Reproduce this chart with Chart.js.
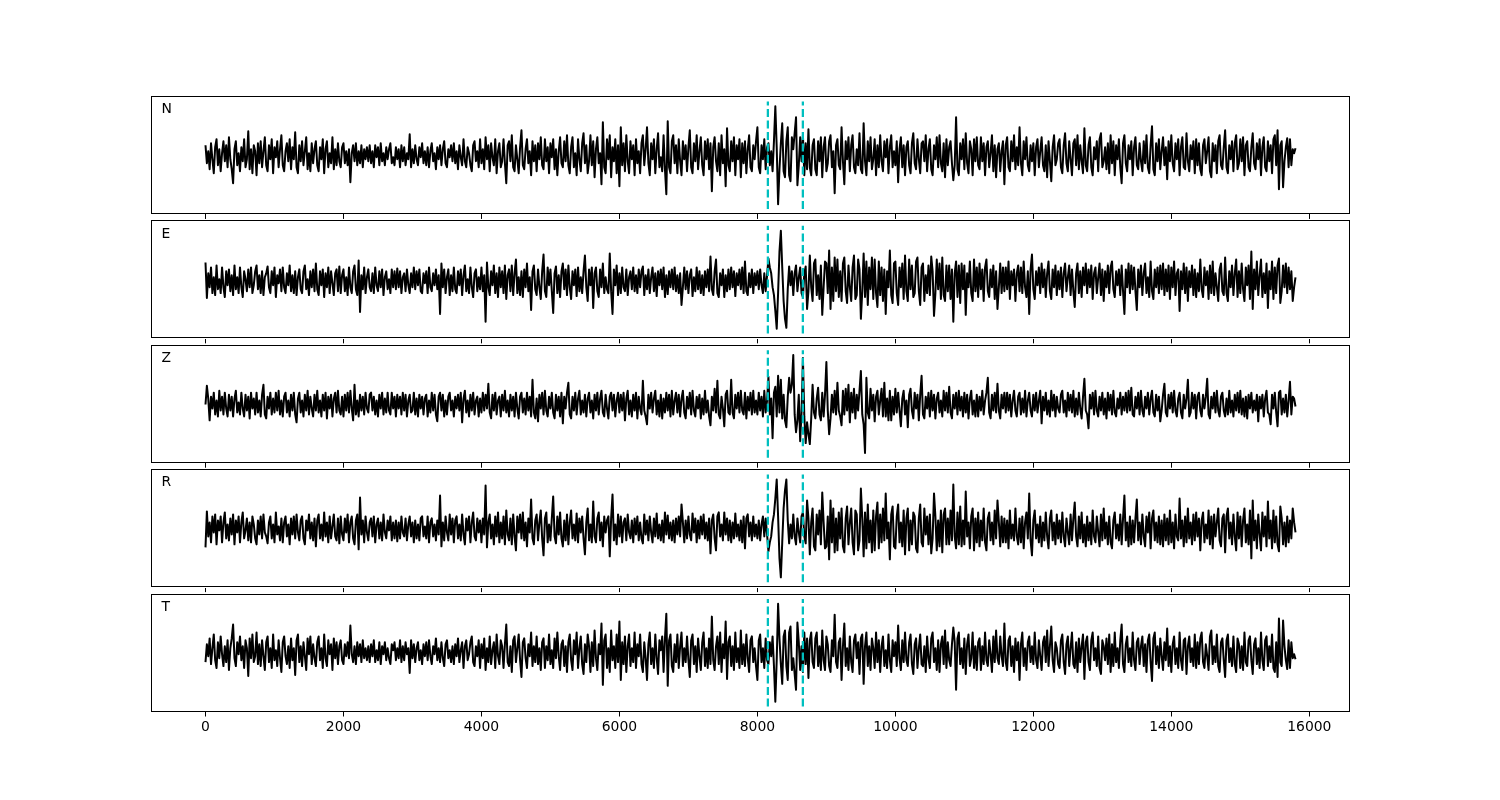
<!DOCTYPE html>
<html><head><meta charset="utf-8">
<script src="https://cdn.jsdelivr.net/npm/chart.js@4.4.1/dist/chart.umd.min.js"></script>
<style>
html,body{margin:0;padding:0;background:#fff;}
#wrap{position:relative;width:1500px;height:800px;background:#fff;}
#wrap canvas{position:absolute;left:0;top:0;}
</style></head><body><div id="wrap"></div>
<script>
// sample spacing (x units per sample)
const sampleStep = 20;
const channels = ['N','E','Z','R','T'];
const traceN = [
10,-8,4,-14,12,-4,-18,8,16,-10,6,-16,2,14,-6,10,-12,18,-4,-14,
-28,6,14,-10,2,-16,8,-6,16,-12,-4,24,-14,6,-18,10,4,-20,12,-8,
14,-12,4,18,-10,-16,10,-4,16,-18,8,-2,14,-12,6,20,-10,-16,4,12,
-6,16,-14,8,-4,23,-12,-18,10,-6,14,-10,4,18,-14,2,-16,12,-8,6,
14,-10,-16,8,-4,16,-18,6,14,-12,2,-8,18,-14,6,-10,12,-6,-12,8,
12,-8,4,-10,6,-27,2,10,-6,12,-10,4,-8,10,-12,6,-4,8,-6,10,
-8,4,-12,10,-2,8,-10,12,-6,2,-10,8,-4,6,12,-8,-2,-10,8,-4,
6,-12,10,-6,8,-10,2,-4,21,-12,6,-8,10,-4,-10,8,-2,12,-8,4,
-10,8,-12,4,12,-6,2,-14,8,-4,10,-10,6,14,-8,-12,6,-2,10,-6,
12,-8,4,-14,10,-2,-10,16,-6,-12,8,2,-10,-16,10,14,-6,4,-12,16,
-8,6,-14,18,-4,10,-16,12,-2,-10,16,-18,4,12,-12,-6,16,-8,-28,10,
14,-6,20,-12,-16,10,-4,-18,8,25,-10,-14,6,16,-8,4,-20,14,-6,10,
-16,12,-4,18,-10,-14,16,-6,8,-18,12,-2,16,-14,6,-20,4,18,-8,-12,
14,-6,20,-10,-18,8,18,-12,2,-20,16,-4,-16,12,22,-8,10,-18,-6,20,
-10,14,-22,6,18,-8,2,-29,33,-12,-18,16,-4,20,-22,8,-6,16,-18,10,
-31,28,-10,12,-16,20,-6,-18,14,-4,10,-20,16,-8,4,-18,12,20,-10,6,
28,-8,-20,12,-4,16,-18,6,22,-12,-2,-16,20,-14,-39,34,-12,-18,14,20,
-8,10,-18,16,-6,-20,14,-4,10,-16,8,25,-12,-18,12,-6,20,-14,4,18,
-10,-20,14,-4,16,-14,12,-36,8,18,-6,-16,12,-20,20,-8,6,-31,27,-10,
-16,14,-6,18,-20,10,-4,16,-22,12,-8,14,-18,6,20,-12,-16,10,-4,14,
28,-12,-18,10,-4,16,-14,8,12,-10,4,-16,14,49,8,-49,-14,12,32,-16,
-22,14,28,-20,-26,18,6,22,38,-30,-10,18,-6,20,-20,12,-14,26,-12,-20,
10,16,-14,-20,14,-6,18,-22,8,18,-16,-8,14,20,-12,4,-38,10,16,-10,
-14,28,-6,-29,14,-4,18,-16,10,20,-12,-18,6,-10,22,-14,-18,32,-6,-20,
14,-6,18,-14,-4,16,-20,10,-12,20,-6,-16,14,-2,16,-18,8,20,-12,4,
-10,14,-27,6,18,-12,10,-20,8,14,-10,-18,12,22,-8,-14,16,-4,-18,12,
14,-6,20,-16,6,16,-14,-20,10,-4,18,-12,20,-8,-16,12,-22,16,-10,8,
14,-8,-25,-10,38,-14,-20,12,-4,16,-14,22,-8,-18,14,6,-20,16,-6,18,
-10,-14,18,-6,12,-20,8,14,-12,2,20,-16,10,-22,6,12,-16,4,14,-29,
10,18,-12,-16,14,-6,20,-14,8,-10,28,-8,-20,14,-4,18,-10,-16,10,-6,
12,-20,8,16,-12,4,18,-10,-16,10,-22,14,-6,-26,8,20,-10,-4,12,16,
-12,-18,10,22,-8,-16,14,-4,-20,12,16,-10,20,-14,10,-6,-18,27,-10,-16,
10,18,-12,-20,8,-4,14,-16,16,22,-12,-6,8,-14,12,-18,20,-8,14,-20,
10,-4,16,-12,-28,12,20,-8,-16,10,-4,14,-20,8,18,-10,-14,12,-6,-16,
14,-8,20,-12,-18,10,29,-14,-20,12,-6,16,-14,4,18,-10,8,-24,14,-6,
20,-8,-16,12,-4,16,-20,8,18,-12,-14,22,-6,-16,10,-4,14,-18,16,-10,
12,-14,-20,10,16,-8,4,18,-16,-22,12,-6,10,-18,14,20,-10,-14,8,25,
-12,-18,10,-4,14,-16,12,20,-14,-8,16,-6,18,-20,10,14,-12,-16,8,22,
-8,-14,12,-4,16,-20,8,18,-12,-16,14,-6,10,-18,16,20,-10,25,-34,10,
14,-32,-6,8,17,-12,16,-10,6,2,7];
const traceE = [
19,-17,8,-6,14,-12,4,-14,16,-8,2,-12,14,-6,-16,10,-4,12,-10,6,
-14,16,-8,4,-12,14,-6,-16,10,2,-10,12,-6,14,-12,-4,10,16,-8,6,
-12,10,-14,4,8,15,-6,-12,10,-4,14,-16,6,-2,12,-10,14,-6,-12,8,
-4,16,-10,6,-12,10,-14,4,12,-8,-12,10,16,-8,2,-14,10,-6,12,-10,
18,-8,-14,10,-4,12,-16,8,-6,14,-12,10,-2,-14,8,12,-10,15,-12,6,
12,-10,4,-14,14,-6,-12,10,16,-8,-14,21,-31,6,-8,14,-12,4,12,-6,
-10,8,-12,14,-4,-10,10,-6,12,-14,4,10,-8,2,-12,12,-6,10,-8,13,
-6,10,-12,4,8,-10,12,-4,-12,8,-6,14,-8,10,-4,12,-10,-12,8,-2,
10,-12,14,-6,-10,8,-4,12,-8,6,-33,18,-6,12,-12,4,12,-14,6,-10,
14,-8,-12,10,-4,12,-14,6,16,-10,2,-12,14,-6,-16,8,12,-10,4,-8,
14,-10,6,-41,19,-6,-14,10,-4,16,-12,8,-16,14,-6,10,-12,16,-18,6,
12,-10,16,-14,8,22,-12,4,-14,10,-16,12,-6,18,-10,4,-29,10,16,-8,
-14,12,-6,-18,10,27,-10,-16,14,-4,12,-10,-32,8,15,-12,6,-16,10,18,
-8,12,-14,16,-6,-18,10,-4,12,-15,14,-10,4,-12,10,26,-6,-20,12,-4,
14,-27,8,14,-10,-16,12,-6,18,-12,4,-8,-12,28,-10,-33,12,-4,16,-14,
8,-12,14,-6,-10,12,-14,4,10,-8,14,-10,6,-12,12,-6,10,15,-14,6,
-8,12,-12,4,14,-10,8,-15,10,-4,12,-8,14,-16,6,-13,10,-6,12,-8,
14,-10,6,-12,8,-24,-6,14,-8,10,-12,6,12,-15,4,-10,14,-8,10,-12,
6,-14,10,-6,12,-10,25,-8,-14,10,22,-12,-16,8,-4,12,-16,6,-10,12,
-8,14,-6,10,-15,8,-4,12,-8,14,-12,20,-10,-14,8,-6,12,-12,8,-4,
10,-8,12,-4,-12,8,-10,6,23,14,8,-6,-14,-30,-48,-12,30,51,14,-20,
-38,-47,-8,15,-4,10,-14,8,16,-10,4,14,-12,-16,8,15,-28,-10,26,-6,
-20,18,22,-14,6,-18,16,-34,-6,20,18,-12,31,-28,14,-20,24,-10,22,-16,
10,-20,18,24,-10,-22,16,-6,-20,14,26,-18,-14,22,12,-38,-10,28,-16,20,
-24,14,-8,24,-18,22,-12,-26,20,-14,14,-20,12,-33,10,-6,31,-14,-22,18,
20,-12,-24,14,-6,18,-18,26,-10,-20,22,-8,16,-16,-12,20,24,-10,-24,14,
18,-20,6,-12,16,-14,25,10,-35,-12,22,-8,18,-18,24,-14,-20,16,-10,16,
-18,12,-41,8,20,-16,16,-22,18,-8,16,-34,8,-6,20,-12,-20,22,-10,14,
-16,18,-8,12,-20,14,22,-10,-16,12,-6,16,-18,10,-28,-6,18,-12,14,-10,
14,-8,20,-18,10,-4,12,-20,8,16,-10,14,-12,20,-6,-16,10,-33,12,27,
-8,-18,10,-4,14,-12,18,-6,12,-16,8,20,-10,-18,12,-6,16,-14,10,-8,
14,-16,8,18,-10,4,16,-14,12,-10,-26,8,18,-12,10,-16,14,-4,18,-12,
12,-6,16,-18,8,14,-12,4,18,-14,12,-20,10,-6,16,-12,14,20,-8,-16,
10,-4,12,-14,16,-10,-33,12,-6,18,-12,16,-8,14,-10,-29,12,-6,16,-14,
8,18,-12,4,-16,20,-10,-18,12,-6,14,-12,16,-8,18,-14,12,-10,16,-18,
14,-6,20,-14,8,12,-30,10,-8,18,-12,14,-20,10,-6,16,-14,12,-16,8,
-10,22,-8,-16,14,-4,10,-18,16,-12,20,-14,8,-6,-20,12,18,-10,-14,24,
-12,-20,10,-6,16,-14,8,22,-16,10,-12,18,-8,-20,14,-4,16,-18,30,-28,
12,-8,20,-14,6,22,-16,8,-12,18,-27,10,-8,20,-18,14,-12,16,23,-22,
-10,16,-6,18,-12,14,-8,10,-20,-6,4];
const traceZ = [
0,19,6,-16,8,-4,12,-10,4,-12,14,-6,8,-10,12,-4,-12,10,-6,8,
-12,6,14,-8,2,-10,12,-4,-12,10,-6,8,-14,12,-4,6,-10,12,-8,4,
-12,10,20,-10,-14,8,-4,12,-10,6,-8,12,-6,14,-10,4,-12,8,12,-8,
4,-12,10,-6,12,-10,-18,6,12,-8,4,-12,10,-6,14,-10,8,-4,-12,10,
-6,14,-8,4,-12,10,-6,12,-14,8,-4,10,-12,6,12,-8,14,-6,-10,8,
-12,10,-6,12,-8,14,-4,-16,20,-10,4,-12,10,-6,8,-10,12,-4,-8,10,
12,-6,8,-10,4,-12,10,-4,12,-10,6,-8,12,-6,-10,12,-4,8,-12,10,
-4,8,-10,12,-6,10,-12,4,10,-8,-6,12,-10,6,-12,10,-4,8,-10,6,
10,-12,4,-8,12,-6,10,-10,-17,8,12,-6,10,-12,4,-10,8,12,-6,4,
-12,8,-4,10,-6,12,-18,6,14,-8,4,-12,10,-6,12,-10,4,8,-12,6,
-8,12,-6,10,-4,21,-8,-14,10,-6,12,-10,4,8,-12,10,-6,14,-8,4,
-12,10,-6,8,-12,12,-4,-14,8,12,-8,6,-10,12,-6,8,-12,25,-8,-14,
6,-17,10,-4,12,-10,14,-6,-12,8,-4,12,-8,-14,10,-6,8,-12,12,-19,
8,-4,12,22,-10,-14,8,-6,12,-10,6,14,-10,4,-8,10,-12,6,12,-8,
4,-14,10,-6,12,-10,6,14,-8,-12,10,-4,-14,8,12,-6,10,-12,4,12,
-8,10,-6,12,-16,6,14,-10,4,-12,10,-6,12,-14,8,-4,-10,24,-6,-12,
-20,10,-4,12,-8,6,14,-10,4,-12,10,-14,6,-8,12,-6,10,-12,14,-10,
4,12,-8,10,-12,6,14,-8,-14,8,-4,12,-10,14,-6,-12,8,-4,10,-14,
6,-10,14,-8,4,-12,-21,8,-6,16,-8,24,-10,-14,8,-4,-22,10,14,-8,
-10,25,-8,-14,10,-4,12,-8,14,-6,-10,12,-14,8,-6,12,-10,14,-8,4,
-10,12,-6,8,-12,14,-8,4,28,-10,6,-34,12,18,-12,29,-8,25,-14,10,
-16,-23,8,27,12,20,50,-10,-28,-16,10,-37,-8,47,-12,-39,-18,-30,-40,-14,
20,-8,-14,6,17,-10,-16,12,-12,10,43,-6,-30,-14,10,-8,14,-10,22,-6,
-12,-21,14,-10,16,-6,20,-18,12,-8,16,-14,10,-6,14,34,-10,-20,-49,27,
-8,-14,16,-6,10,-17,8,14,-10,4,16,-12,22,-12,6,-16,14,-16,8,-10,
16,-8,12,-6,-22,6,14,-10,4,-23,10,16,-6,-14,12,-4,10,-16,10,29,
-10,-14,8,-4,12,-12,14,-6,10,-14,6,12,-8,4,-12,14,-6,12,-8,18,
-8,-14,10,-4,12,-10,14,-6,8,-12,12,-8,10,-14,6,14,-10,4,-12,10,
-12,8,-6,14,-10,4,12,27,-8,-14,10,-6,12,-8,21,-6,-14,10,-4,12,
-8,12,-6,10,-12,4,14,-6,-12,8,12,-10,6,-8,14,-12,4,12,-6,-12,
10,-6,12,-8,4,14,-19,8,-6,12,-10,4,-12,14,-6,10,-12,8,-4,-8,
10,14,-8,4,-12,12,-6,10,-8,14,-12,6,-10,12,-4,-14,8,26,-6,-10,
-24,10,-4,12,-10,14,-6,-12,8,-6,12,-10,6,-14,12,-6,10,-10,14,-8,
-12,6,-4,12,-10,8,-6,12,-8,14,-6,17,-10,-12,8,-4,12,-10,14,-6,
-12,8,-4,12,-10,6,14,-8,-12,10,-6,8,-17,-6,10,21,-8,-12,10,-4,
12,-8,14,-6,-12,6,12,-8,-14,10,-4,6,25,-12,-8,12,-4,10,-14,8,
12,-6,-12,10,-4,8,26,-10,-14,8,-4,12,-8,14,-6,-12,8,12,-6,-12,
6,-10,14,-8,4,-12,10,-6,12,-8,14,-10,6,-12,8,-14,10,-4,12,-8,
4,-6,10,-17,8,-4,10,-12,6,14,-8,-10,-20,10,-4,12,-8,-22,12,14,
-10,6,-8,10,-12,4,23,-10,8,6,-2];
const traceR = [
-19,17,-8,6,-14,12,-4,14,-16,8,-2,12,-14,6,16,-10,4,-12,10,-6,
14,-16,8,-4,12,-14,6,16,-10,-2,10,-12,6,-14,12,4,-10,-16,8,-6,
12,-10,14,-4,-8,-15,6,12,-10,4,-14,16,-6,2,-12,10,-14,6,12,-8,
4,-16,10,-6,12,-10,14,-4,-12,8,12,-10,-16,8,-2,14,-10,6,-12,10,
-18,8,14,-10,4,-12,16,-8,6,-14,12,-10,2,14,-8,-12,10,-15,12,-6,
-12,10,-4,14,-14,6,12,-10,-16,8,14,-21,31,-6,8,-14,12,-4,-12,6,
10,-8,12,-14,4,10,-10,6,-12,14,-4,-10,8,-2,12,-12,6,-10,8,-13,
6,-10,12,-4,-8,10,-12,4,12,-8,6,-14,8,-10,4,-12,10,12,-8,2,
-10,12,-14,6,10,-8,4,-12,8,-6,33,-18,6,-12,12,-4,-12,14,-6,10,
-14,8,12,-10,4,-12,14,-6,-16,10,-2,12,-14,6,16,-8,-12,10,-4,8,
-14,10,-6,43,-19,6,14,-10,4,-16,12,-8,16,-14,6,-10,12,-16,18,-6,
-12,10,-16,14,-8,-22,12,-4,14,-10,16,-12,6,-18,10,-4,29,-10,-16,8,
14,-12,6,18,-10,-27,10,16,-14,4,-12,10,32,-8,-15,12,-6,16,-10,-18,
8,-12,14,-16,6,18,-10,4,-12,15,-14,10,-4,12,-10,-26,6,20,-12,4,
-14,27,-8,-14,10,16,-12,6,-18,12,-4,8,12,-28,10,34,-12,4,-16,14,
-8,12,-14,6,10,-12,14,-4,-10,8,-14,10,-6,12,-12,6,-10,-15,14,-6,
8,-12,12,-4,-14,10,-8,15,-10,4,-12,8,-14,16,-6,13,-10,6,-12,8,
-14,10,-6,12,-8,24,6,-14,8,-10,12,-6,-12,15,-4,10,-14,8,-10,12,
-6,14,-10,6,-12,10,-25,8,14,-10,-22,12,16,-8,4,-12,16,-6,10,-12,
8,-14,6,-10,15,-8,4,-12,8,-14,12,-20,10,14,-8,6,-12,12,-8,4,
-10,8,-12,4,12,-8,10,-6,-23,-14,-8,6,14,30,49,12,-30,-49,-14,20,
38,49,8,-15,4,-10,14,-8,-16,10,-4,-14,12,16,-8,-15,28,10,-26,6,
20,-18,-22,14,-6,18,-16,36,6,-20,-18,12,-31,28,-14,20,-24,10,-22,16,
-10,20,-18,-24,10,22,-16,6,20,-14,-26,18,14,-22,-12,40,10,-28,16,-20,
24,-14,8,-24,18,-22,12,26,-20,14,-14,20,-12,35,-10,6,-31,14,22,-18,
-20,12,24,-14,6,-18,18,-26,10,20,-22,8,-16,16,12,-20,-24,10,24,-14,
-18,20,-6,12,-16,14,-25,-10,35,12,-22,8,-18,18,-24,14,20,-16,10,-16,
18,-12,44,-8,-20,16,-16,22,-18,8,-16,37,-8,6,-20,12,20,-22,10,-14,
16,-18,8,-12,20,-14,-22,10,16,-12,6,-16,18,-10,28,6,-18,12,-14,10,
-14,8,-20,18,-10,4,-12,20,-8,-16,10,-14,12,-20,6,16,-10,35,-12,-27,
8,18,-10,4,-14,12,-18,6,-12,16,-8,-20,10,18,-12,6,-16,14,-10,8,
-14,16,-8,-18,10,-4,-16,14,-12,10,26,-8,-18,12,-10,16,-14,4,-18,12,
-12,6,-16,18,-8,-14,12,-4,-18,14,-12,20,-10,6,-16,12,-14,-20,8,16,
-10,4,-12,14,-16,10,33,-12,6,-18,12,-16,8,-14,10,29,-12,6,-16,14,
-8,-18,12,-4,16,-20,10,18,-12,6,-14,12,-16,8,-18,14,-12,10,-16,18,
-14,6,-20,14,-8,-12,30,-10,8,-18,12,-14,20,-10,6,-16,14,-12,16,-8,
10,-22,8,16,-14,4,-10,18,-16,12,-20,14,-8,6,20,-12,-18,10,14,-24,
12,20,-10,6,-16,14,-8,-22,16,-10,12,-18,8,20,-14,4,-16,18,-30,28,
-12,8,-20,14,-6,-22,16,-8,12,-18,27,-10,8,-20,18,-14,12,-16,-23,22,
10,-16,6,-18,12,-14,8,-10,20,6,-4];
const traceT = [
-10,8,-4,14,-12,4,18,-8,-16,10,-6,16,-2,-14,6,-10,12,-18,4,14,
28,-6,-14,10,-2,16,-8,6,-16,12,4,-24,14,-6,18,-10,-4,20,-12,8,
-14,12,-4,-18,10,16,-10,4,-16,18,-8,2,-14,12,-6,-20,10,16,-4,-12,
6,-16,14,-8,4,-23,12,18,-10,6,-14,10,-4,-18,14,-2,16,-12,8,-6,
-14,10,16,-8,4,-16,18,-6,-14,12,-2,8,-18,14,-6,10,-12,6,12,-8,
-12,8,-4,10,-6,27,-2,-10,6,-12,10,-4,8,-10,12,-6,4,-8,6,-10,
8,-4,12,-10,2,-8,10,-12,6,-2,10,-8,4,-6,-12,8,2,10,-8,4,
-6,12,-10,6,-8,10,-2,4,-21,12,-6,8,-10,4,10,-8,2,-12,8,-4,
10,-8,12,-4,-12,6,-2,14,-8,4,-10,10,-6,-14,8,12,-6,2,-10,6,
-12,8,-4,14,-10,2,10,-16,6,12,-8,-2,10,16,-10,-14,6,-4,12,-16,
8,-6,14,-18,4,-10,16,-12,2,10,-16,18,-4,-12,12,6,-16,8,28,-10,
-14,6,-20,12,16,-10,4,18,-8,-25,10,14,-6,-16,8,-4,20,-14,6,-10,
16,-12,4,-18,10,14,-16,6,-8,18,-12,2,-16,14,-6,20,-4,-18,8,12,
-14,6,-20,10,18,-8,-18,12,-2,20,-16,4,16,-12,-22,8,-10,18,6,-20,
10,-14,22,-6,-18,8,-2,29,-33,12,18,-16,4,-20,22,-8,6,-16,18,-10,
31,-28,10,-12,16,-20,6,18,-14,4,-10,20,-16,8,-4,18,-12,-20,10,-6,
-28,8,20,-12,4,-16,18,-6,-22,12,2,16,-20,14,39,-34,12,18,-14,-20,
8,-10,18,-16,6,20,-14,4,-10,16,-8,-25,12,18,-12,6,-20,14,-4,-18,
10,20,-14,4,-16,14,-12,36,-8,-18,6,16,-12,20,-20,8,-6,31,-27,10,
16,-14,6,-18,20,-10,4,-16,22,-12,8,-14,18,-6,-20,12,16,-10,4,-14,
-28,12,18,-10,4,-16,14,-8,-12,10,-4,16,-14,-50,-8,49,14,-12,-32,16,
22,-14,-28,20,26,-18,-6,-22,-38,30,10,-18,6,-20,20,-12,14,-26,12,20,
-10,-16,14,20,-14,6,-18,22,-8,-18,16,8,-14,-20,12,-4,38,-10,-16,10,
14,-28,6,29,-14,4,-18,16,-10,-20,12,18,-6,10,-22,14,18,-32,6,20,
-14,6,-18,14,4,-16,20,-10,12,-20,6,16,-14,2,-16,18,-8,-20,12,-4,
10,-14,27,-6,-18,12,-10,20,-8,-14,10,18,-12,-22,8,14,-16,4,18,-12,
-14,6,-20,16,-6,-16,14,20,-10,4,-18,12,-20,8,16,-12,22,-16,10,-8,
-14,8,25,10,-38,14,20,-12,4,-16,14,-22,8,18,-14,-6,20,-16,6,-18,
10,14,-18,6,-12,20,-8,-14,12,-2,-20,16,-10,22,-6,-12,16,-4,-14,29,
-10,-18,12,16,-14,6,-20,14,-8,10,-28,8,20,-14,4,-18,10,16,-10,6,
-12,20,-8,-16,12,-4,-18,10,16,-10,22,-14,6,26,-8,-20,10,4,-12,-16,
12,18,-10,-22,8,16,-14,4,20,-12,-16,10,-20,14,-10,6,18,-27,10,16,
-10,-18,12,20,-8,4,-14,16,-16,-22,12,6,-8,14,-12,18,-20,8,-14,20,
-10,4,-16,12,28,-12,-20,8,16,-10,4,-14,20,-8,-18,10,14,-12,6,16,
-14,8,-20,12,18,-10,-29,14,20,-12,6,-16,14,-4,-18,10,-8,24,-14,6,
-20,8,16,-12,4,-16,20,-8,-18,12,14,-22,6,16,-10,4,-14,18,-16,10,
-12,14,20,-10,-16,8,-4,-18,16,22,-12,6,-10,18,-14,-20,10,14,-8,-25,
12,18,-10,4,-14,16,-12,-20,14,8,-16,6,-18,20,-10,-14,12,16,-8,-22,
8,14,-12,4,-16,20,-8,-18,12,16,-14,6,-10,18,-16,-20,10,-25,34,-10,
-14,32,6,-8,-17,12,-16,10,-6,-2,-7];
// arrival picks (x units)
const pickTimes = [8152, 8659];
// x axis ticks
const xTickValues = [0,2000,4000,6000,8000,10000,12000,14000,16000];
const xMin = -790, xMax = 16590;

const traces = [traceN, traceE, traceZ, traceR, traceT];
const wrap = document.getElementById('wrap');
const figTop = 96, figBottom = 712, hspace = 0.05;
const H = (figBottom - figTop) / (5 + 4 * hspace), G = H * hspace;

function framePlugin(label){
  return {
    id:'frame'+label,
    afterDraw(chart){
      const a = chart.chartArea, ctx = chart.ctx;
      ctx.save();
      ctx.strokeStyle = '#000'; ctx.lineWidth = 1;
      ctx.strokeRect(Math.round(a.left)+0.5, Math.round(a.top)+0.5, Math.round(a.right-a.left)-1, Math.round(a.bottom-a.top)-1);
      ctx.fillStyle = '#000';
      ctx.font = '13.9px "DejaVu Sans"';
      ctx.textBaseline = 'alphabetic';
      ctx.fillText(label, a.left + 10.5, a.top + 17.3);
      ctx.restore();
    }
  };
}

traces.forEach((vals, k) => {
  const top = figTop + k * (H + G), bottom = top + H;
  const last = k === 4;
  const axisH = last ? 40 : 8;
  const cv = document.createElement('canvas');
  cv.width = 1500; cv.height = 800;
  cv.style.width = '1500px'; cv.style.height = '800px';
  wrap.appendChild(cv);
  const mn = Math.min(...vals), mx = Math.max(...vals);
  const lo = 1.1 * mn, hi = 1.1 * mx, r = hi - lo;
  const pts = vals.map((v, i) => ({x: i * sampleStep, y: v}));
  const datasets = [{data: pts, borderColor: '#000', borderWidth: 2, pointRadius: 0, tension: 0, order: 2, borderJoinStyle: 'round'}];
  pickTimes.forEach(p => datasets.push({data: [{x: p, y: lo}, {x: p, y: hi}], borderColor: '#00bfbf', borderWidth: 2.3, borderDash: [8, 3.5], pointRadius: 0, order: 1}));
  new Chart(cv, {
    type: 'line',
    data: {datasets},
    options: {
      responsive: false, animation: false, devicePixelRatio: 1, events: [],
      layout: {padding: {left: 151, right: 150, top: top, bottom: 800 - bottom - axisH}},
      plugins: {legend: {display: false}, tooltip: {enabled: false}},
      scales: {
        x: {
          type: 'linear', min: xMin, max: xMax,
          afterBuildTicks: s => { s.ticks = xTickValues.map(v => ({value: v})); },
          afterFit: s => { s.height = axisH; },
          ticks: {display: last, autoSkip: false, maxRotation: 0, color: '#000', font: {family: 'DejaVu Sans', size: 13.9}, padding: 3, callback: v => String(v)},
          grid: {display: true, drawOnChartArea: false, drawTicks: true, tickLength: 4.5, color: '#000', lineWidth: 1},
          border: {display: false}
        },
        y: {display: false, min: lo - 0.05 * r, max: hi + 0.05 * r}
      }
    },
    plugins: [framePlugin(channels[k])]
  });
});
</script></body></html>
